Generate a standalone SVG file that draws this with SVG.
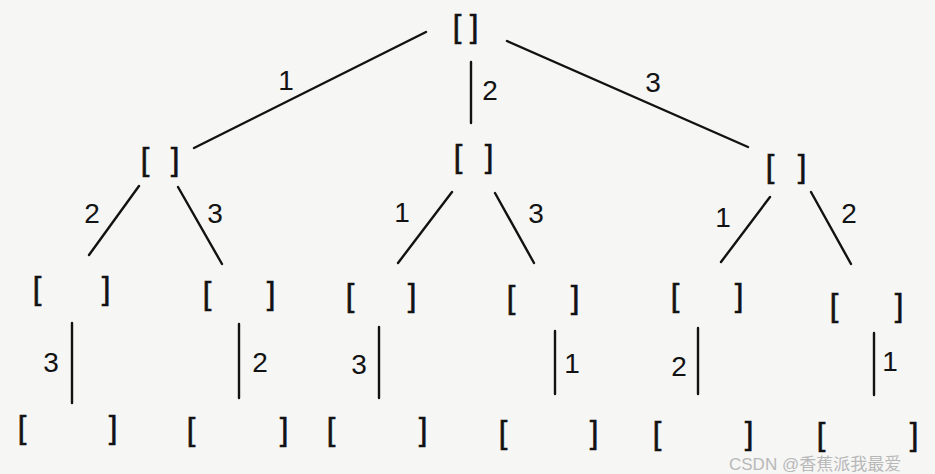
<svg xmlns="http://www.w3.org/2000/svg" width="935" height="474" viewBox="0 0 935 474">
<style>
.br{font-family:"Liberation Sans",Arial,sans-serif;font-size:31px;fill:#121212;stroke:#121212;stroke-width:0.6;text-anchor:middle}
.lb{font-family:"Liberation Sans",Arial,sans-serif;font-size:28px;fill:#121212;text-anchor:middle}
.e{stroke:#121212;stroke-width:2.4;stroke-linecap:round;fill:none}
.wm{font-family:"Liberation Sans","Noto Sans CJK SC",sans-serif;font-size:17px;fill:#b8b8b8}
</style>
<rect width="935" height="474" fill="#f6f6f5"/>
<g id="connectors">
<line class="e" x1="426" y1="32" x2="194" y2="148"/>
<line class="e" x1="471" y1="62" x2="471" y2="123"/>
<line class="e" x1="507" y1="41" x2="748" y2="147"/>
<line class="e" x1="139" y1="186" x2="89" y2="255"/>
<line class="e" x1="178" y1="187" x2="222" y2="264"/>
<line class="e" x1="452" y1="192" x2="398" y2="263"/>
<line class="e" x1="495" y1="193" x2="534" y2="263"/>
<line class="e" x1="770" y1="197" x2="721" y2="262"/>
<line class="e" x1="811" y1="192" x2="851" y2="264"/>
<line class="e" x1="72" y1="323" x2="72" y2="403"/>
<line class="e" x1="239" y1="324" x2="239" y2="398"/>
<line class="e" x1="379" y1="327" x2="379" y2="398"/>
<line class="e" x1="555" y1="331" x2="555" y2="394"/>
<line class="e" x1="698" y1="328" x2="698" y2="394"/>
<line class="e" x1="874" y1="333" x2="874" y2="395"/>
</g>
<g id="labels">
<text class="lb" x="286" y="90">1</text>
<text class="lb" x="490" y="100">2</text>
<text class="lb" x="653" y="92">3</text>
<text class="lb" x="92" y="223">2</text>
<text class="lb" x="215" y="223">3</text>
<text class="lb" x="402" y="222">1</text>
<text class="lb" x="536" y="223">3</text>
<text class="lb" x="723" y="227">1</text>
<text class="lb" x="849" y="223">2</text>
<text class="lb" x="51" y="372">3</text>
<text class="lb" x="260" y="372">2</text>
<text class="lb" x="359" y="374">3</text>
<text class="lb" x="572" y="373">1</text>
<text class="lb" x="679" y="376">2</text>
<text class="lb" x="890" y="371">1</text>
</g>
<g id="n0"><text class="br" x="457" y="37">[</text><text class="br" x="474" y="37">]</text></g>
<g id="n1"><text class="br" x="145" y="170">[</text><text class="br" x="175" y="170">]</text></g>
<g id="n2"><text class="br" x="458" y="167">[</text><text class="br" x="489" y="167">]</text></g>
<g id="n3"><text class="br" x="770" y="177">[</text><text class="br" x="802" y="177">]</text></g>
<g id="n12"><text class="br" x="37" y="299">[</text><text class="br" x="106" y="299">]</text></g>
<g id="n13"><text class="br" x="207" y="304">[</text><text class="br" x="271" y="304">]</text></g>
<g id="n21"><text class="br" x="350" y="306">[</text><text class="br" x="412" y="306">]</text></g>
<g id="n23"><text class="br" x="511" y="308">[</text><text class="br" x="575" y="308">]</text></g>
<g id="n31"><text class="br" x="675" y="306">[</text><text class="br" x="739" y="306">]</text></g>
<g id="n32"><text class="br" x="834" y="316">[</text><text class="br" x="899" y="316">]</text></g>
<g id="n123"><text class="br" x="22" y="438">[</text><text class="br" x="113" y="438">]</text></g>
<g id="n132"><text class="br" x="191" y="440">[</text><text class="br" x="284" y="440">]</text></g>
<g id="n213"><text class="br" x="331" y="440">[</text><text class="br" x="423" y="440">]</text></g>
<g id="n231"><text class="br" x="503" y="443">[</text><text class="br" x="594" y="443">]</text></g>
<g id="n312"><text class="br" x="657" y="444">[</text><text class="br" x="749" y="444">]</text></g>
<g id="n321"><text class="br" x="821" y="445">[</text><text class="br" x="914" y="445">]</text></g>
<text class="wm" x="729" y="470">CSDN @香蕉派我最爱</text>
</svg>
